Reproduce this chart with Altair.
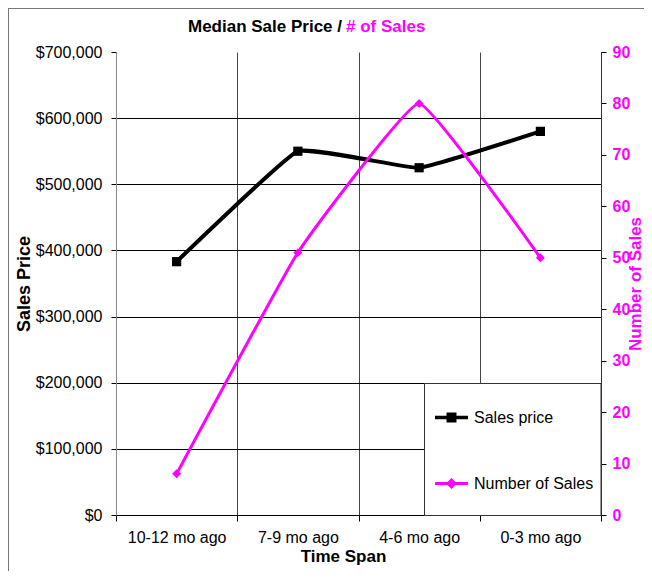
import altair as alt
import pandas as pd

# ---- data ----
spans = ["10-12 mo ago", "7-9 mo ago", "4-6 mo ago", "0-3 mo ago"]
sales_price = [383000, 550000, 525000, 580000]
num_sales = [8, 51, 80, 50]
price_ticks = [0, 100000, 200000, 300000, 400000, 500000, 600000, 700000]
count_ticks = [0, 10, 20, 30, 40, 50, 60, 70, 80, 90]
series_names = ["Sales price", "Number of Sales"]
series_colors = ["#000000", "#FF00FF"]

df_price = pd.DataFrame({"span": spans, "value": sales_price, "series": series_names[0]})
df_sales = pd.DataFrame({"span": spans, "value": num_sales, "series": series_names[1]})
df_legend = pd.DataFrame({"series": series_names})
dummy = pd.DataFrame({"k": [0]})

W, H = 485, 463
PAD_R = 43
FONT = "Liberation Sans"
MAGENTA = "#FF00FF"

x_enc = alt.X(
    "span:N",
    sort=spans,
    bandPosition=0.5,
    scale=alt.Scale(type="band", paddingInner=0, paddingOuter=0),
    axis=alt.Axis(
        title="Time Span", titleFontSize=17, titleFontWeight="bold", titleColor="black",
        titleX=227, titleY=41, titleAlign="center", titleBaseline="middle",
        labelAngle=0, labelFontSize=16, labelColor="black", labelPadding=8,
        tickSize=6, tickColor="black", tickBand="extent",
        grid=True, gridColor="#444444", gridWidth=1, domainColor="black",
    ),
)

# legend symbols: line segment with a marker on it (drawn in a 39px box, left part used)
sq_path = "M-1,-0.087H-0.41V-0.256H0.102V-0.087H0.692V0.087H0.102V0.256H-0.41V0.087H-1Z"
dm_path = "M-1,-0.077H-0.359L-0.154,-0.282L0.051,-0.077H0.692V0.077H0.051L-0.154,0.282L-0.359,0.077H-1Z"

legend_def = alt.Legend(
    title=None, orient="none", legendX=319, legendY=346,
    padding=0, rowPadding=38, strokeColor="transparent", fillColor="transparent",
    symbolSize=1521, symbolStrokeWidth=0, labelFontSize=16, labelColor="black",
    labelOffset=0, labelLimit=0,
)

grid_op = {"condition": {"test": "datum.value >= 700000", "value": 0}, "value": 1}

y_price = alt.Y(
    "value:Q",
    scale=alt.Scale(domain=[0, 700000], nice=False),
    axis=alt.Axis(
        values=price_ticks, format="$,.0f",
        title="Sales Price", titleFontSize=18, titleFontWeight="bold", titleColor="black",
        titleAngle=270, titleX=-92, titleY=H / 2, titleAlign="center", titleBaseline="middle",
        labelFontSize=16, labelColor="black", labelPadding=9,
        tickSize=5, tickColor="black", domainColor="#888888",
        grid=True, gridColor="black", gridOpacity=grid_op,
    ),
)

y_sales = alt.Y(
    "value:Q",
    scale=alt.Scale(domain=[0, 90], nice=False),
    axis=alt.Axis(
        orient="right", values=count_ticks,
        title="Number of Sales", titleFontSize=17, titleFontWeight="bold", titleColor=MAGENTA,
        titleAngle=270, titleX=34, titleY=H / 2, titleAlign="center", titleBaseline="middle",
        labelFontSize=16, labelFontWeight="bold", labelColor=MAGENTA, labelPadding=6,
        tickSize=5, tickColor="black", domainColor="#333333", grid=False,
    ),
)

SMOOTH = dict(interpolate="cardinal", tension=0.7)

price_line = alt.Chart(df_price).mark_line(strokeWidth=4, color="black", **SMOOTH).encode(
    x=x_enc, y=y_price)
price_pts = alt.Chart(df_price).mark_point(shape="square", filled=True, size=85, opacity=1, color="black").encode(
    x=x_enc, y=y_price)
sales_line = alt.Chart(df_sales).mark_line(strokeWidth=3, color=MAGENTA, **SMOOTH).encode(
    x=x_enc, y=y_sales)
sales_pts = alt.Chart(df_sales).mark_point(shape="diamond", filled=True, size=80, opacity=1, color=MAGENTA).encode(
    x=x_enc, y=y_sales)

price_layer = alt.layer(price_line, price_pts)
sales_layer = alt.layer(sales_line, sales_pts)

# legend box (decoration) + legend-only layer that builds the entries from the scale domains
legend_box = alt.Chart(dummy).mark_rect(fill="white", stroke="#333333", strokeWidth=1).encode(
    x=alt.value(308.5), x2=alt.value(485), y=alt.value(331.5), y2=alt.value(463.5))
legend_layer = alt.Chart(df_legend).transform_filter("false").mark_point(filled=True, opacity=1).encode(
    color=alt.Color("series:N", scale=alt.Scale(domain=series_names, range=series_colors), legend=legend_def),
    shape=alt.Shape("series:N", scale=alt.Scale(domain=series_names, range=[sq_path, dm_path]), legend=legend_def),
)

title_black = alt.Chart(dummy).mark_text(
    text="Median Sale Price /", align="right", baseline="middle", fontSize=17,
    fontWeight="bold", color="black", font=FONT,
).encode(x=alt.value(226), y=alt.value(-25))
title_pink = alt.Chart(dummy).mark_text(
    text="# of Sales", align="left", baseline="middle", fontSize=17,
    fontWeight="bold", color=MAGENTA, font=FONT,
).encode(x=alt.value(230), y=alt.value(-25))

border_top = alt.Chart(dummy).mark_rule(stroke="#777777", strokeWidth=1).encode(
    x=alt.value(-108), x2=alt.value(W + PAD_R), y=alt.value(-43.5))
border_left = alt.Chart(dummy).mark_rule(stroke="#777777", strokeWidth=1).encode(
    x=alt.value(-107.5), y=alt.value(-44), y2=alt.value(H + 56))

chart = alt.layer(
    border_top, border_left, price_layer, sales_layer, legend_box, legend_layer, title_black, title_pink
).resolve_scale(
    y="independent"
).properties(
    width=W, height=H,
    padding={"left": 108, "top": 44, "right": PAD_R, "bottom": 56},
    autosize=alt.AutoSizeParams(type="none"),
).configure(font=FONT).configure_view(stroke="transparent")

chart.save("out.html", embed_options={"renderer": "svg", "actions": False})
